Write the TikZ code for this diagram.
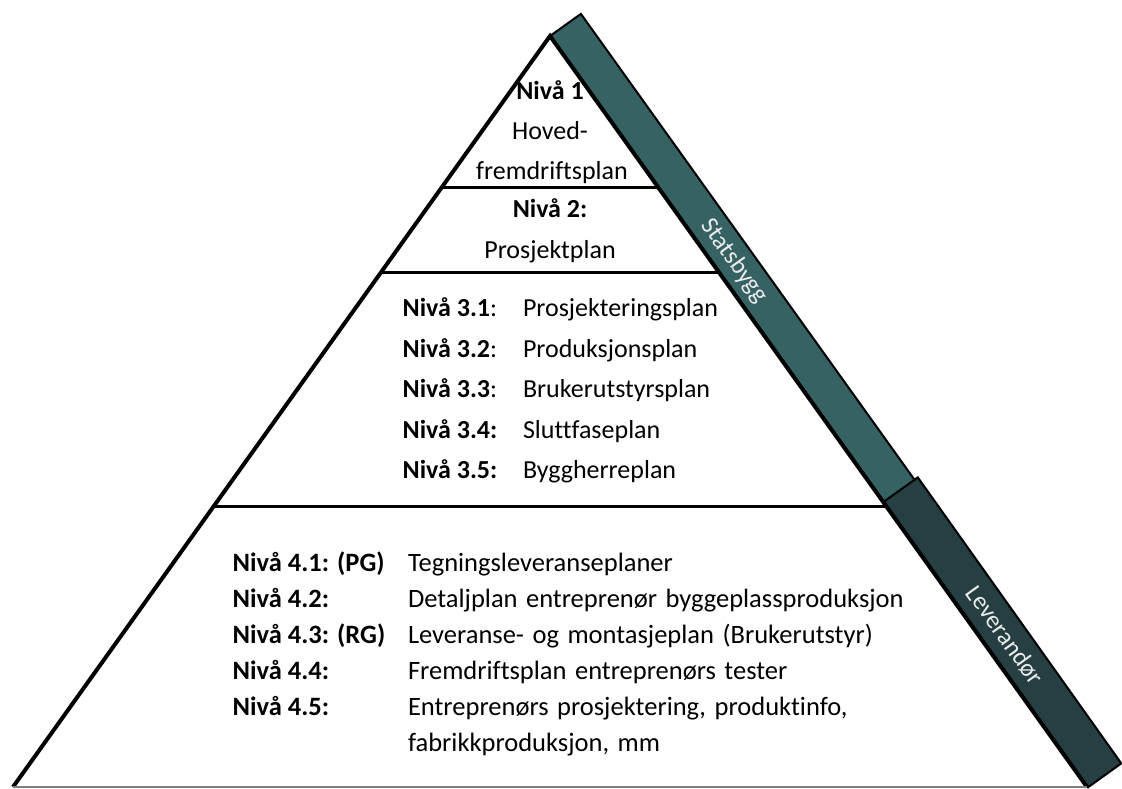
\documentclass[tikz,border=0pt]{standalone}
\usepackage{fontspec}
\setmainfont{Carlito}[Ligatures=NoCommon]
\usepackage{xcolor}

\begin{document}
\begin{tikzpicture}[x=1pt,y=1pt,
  txt/.style={text=black,inner sep=0pt,outer sep=0pt,font=\fontsize{26}{31}\selectfont},
  lowtxt/.style={text=black,inner sep=0pt,outer sep=0pt,anchor=base west,font=\fontsize{26.5}{31}\selectfont},
  widetxt/.style={lowtxt,execute at begin node={\spaceskip=8.5pt\relax}},
  band/.style={draw=black,line width=2pt,line join=miter},
  bandtxt/.style={text=bandText,inner sep=0pt,outer sep=0pt,rotate=-54.4,font=\fontsize{25}{30}\selectfont}]
\definecolor{fillColor}{RGB}{255,255,255}
\definecolor{lightBand}{RGB}{54,98,100}
\definecolor{darkBand}{RGB}{37,63,66}
\definecolor{bandText}{RGB}{235,235,235}
\path[use as bounding box,fill=fillColor] (0,0) rectangle (1122,789);

% bands along the right side
\path[band,fill=lightBand] (550,753) -- (580.9,775.1) -- (915.7,307.6) -- (884.8,285.5) -- cycle;
\path[band,fill=darkBand] (883.6,287.1) -- (917.8,311.6) -- (1121.3,25.6) -- (1088,1.7) -- cycle;

% pyramid
\path[draw=black,line width=4pt,line join=miter] (13,2) -- (550,753) -- (1087,2);
\path[draw=gray,line width=1.5pt] (13,2) -- (1087,2);
\path[draw=black,line width=3pt] (441.2,601) -- (658.8,601);
\path[draw=black,line width=3pt] (380.3,516) -- (719.7,516);
\path[draw=black,line width=3pt] (212.8,282) -- (887.2,282);

% level 1 and 2
\node[txt,anchor=base] (n1) at (550,689.7) {\bfseries Nivå 1};
\node[txt,anchor=base] (n1a) at (550,649) {Hoved-};
\node[txt,anchor=base] (n1b) at (552,609) {fremdriftsplan};
\node[txt,anchor=base] (n2) at (550,571.7) {\bfseries Nivå 2:};
\node[txt,anchor=base] (n2a) at (550,530.7) {Prosjektplan};

% level 3
\node[txt,anchor=base west] (n31) at (402.7,472) {\textbf{Nivå 3.1}:};
\node[txt,anchor=base west] (p31) at (523,472) {Prosjekteringsplan};
\node[txt,anchor=base west] (n32) at (402.7,431.5) {\textbf{Nivå 3.2}:};
\node[txt,anchor=base west] (p32) at (523,431.5) {Produksjonsplan};
\node[txt,anchor=base west] (n33) at (402.7,391) {\textbf{Nivå 3.3}:};
\node[txt,anchor=base west] (p33) at (523,391) {Brukerutstyrsplan};
\node[txt,anchor=base west] (n34) at (402.7,350.5) {\bfseries Nivå 3.4:};
\node[txt,anchor=base west] (p34) at (523,350.5) {Sluttfaseplan};
\node[txt,anchor=base west] (n35) at (402.7,310) {\bfseries Nivå 3.5:};
\node[txt,anchor=base west] (p35) at (523,310) {Byggherreplan};

% level 4
\node[lowtxt] (n41) at (232.7,217) {\bfseries Nivå 4.1: (PG)};
\node[widetxt] (p41) at (408,217) {Tegningsleveranseplaner};
\node[lowtxt] (n42) at (232.7,181) {\bfseries Nivå 4.2:};
\node[widetxt] (p42) at (408,181) {Detaljplan entreprenør byggeplassproduksjon};
\node[lowtxt] (n43) at (232.7,145) {\bfseries Nivå 4.3: (RG)};
\node[widetxt] (p43) at (408,145) {Leveranse- og montasjeplan (Brukerutstyr)};
\node[lowtxt] (n44) at (232.7,109) {\bfseries Nivå 4.4:};
\node[widetxt] (p44) at (408,109) {Fremdriftsplan entreprenørs tester};
\node[lowtxt] (n45) at (232.7,73) {\bfseries Nivå 4.5:};
\node[widetxt] (p45a) at (408,73) {Entreprenørs prosjektering, produktinfo,};
\node[widetxt] (p45b) at (408,37) {fabrikkproduksjon, mm};

% band labels
\node[bandtxt] (sb) at (734,528) {Statsbygg};
\node[bandtxt] (lv) at (1005,154) {Leverandør};
\end{tikzpicture}
\end{document}
